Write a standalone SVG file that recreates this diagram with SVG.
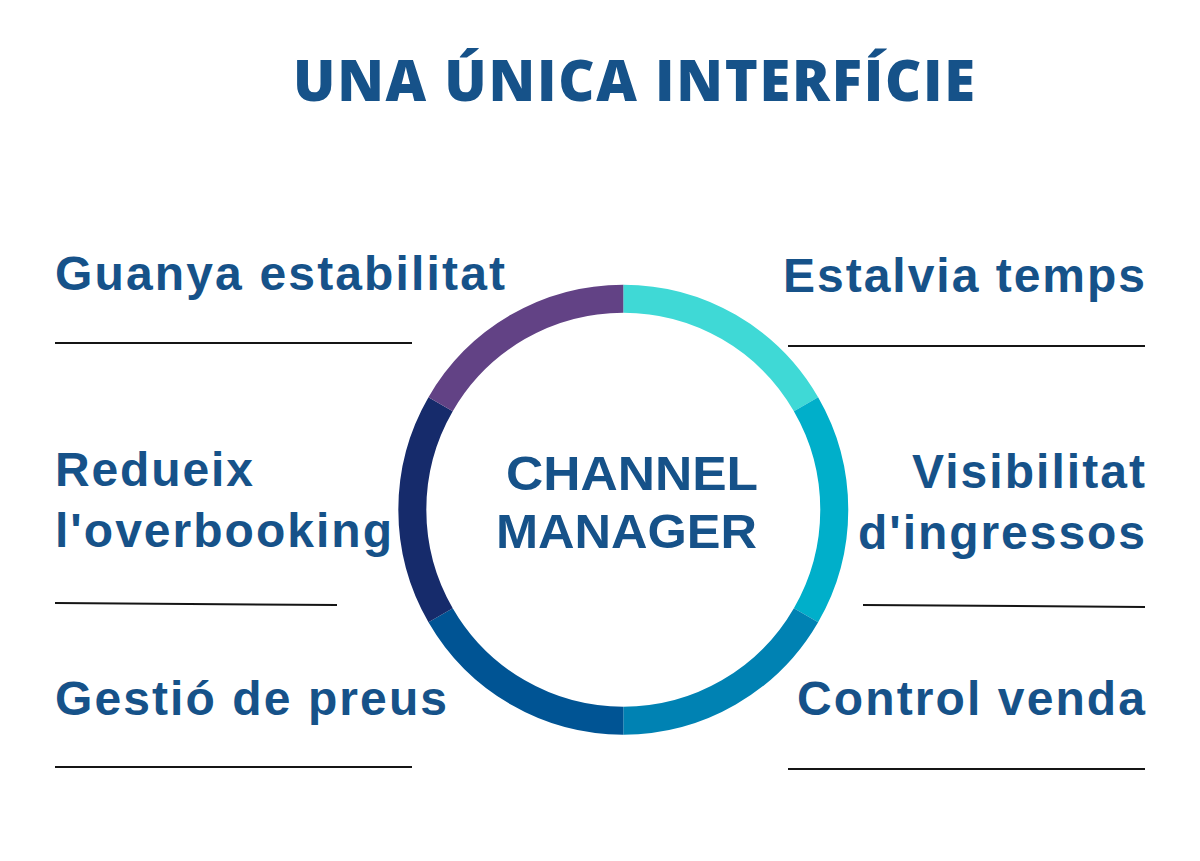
<svg xmlns="http://www.w3.org/2000/svg" width="1200" height="861" viewBox="0 0 1200 861">
<style>
.t{font-family:"Liberation Sans",Arial,sans-serif;font-weight:bold;fill:#165289;font-size:48px}
.title{font-family:"Open Sans","Liberation Sans",sans-serif;font-weight:800;fill:#165289;font-size:56px}
.seg{fill:none;stroke-width:28}
.rule{stroke:#151515;stroke-width:2;fill:none}
</style>
<rect width="1200" height="861" fill="#ffffff"/>
<text class="title" x="293" y="101" textLength="682" lengthAdjust="spacing">UNA ÚNICA INTERFÍCIE</text>
<g id="ring">
<path class="seg" stroke="#3FD9D6" d="M623.3,298.7 A211,211 0 0 1 806.0,404.2"/>
<path class="seg" stroke="#00AFCA" d="M806.0,404.2 A211,211 0 0 1 806.0,615.2"/>
<path class="seg" stroke="#0082B3" d="M806.0,615.2 A211,211 0 0 1 623.3,720.7"/>
<path class="seg" stroke="#005494" d="M623.3,720.7 A211,211 0 0 1 440.6,615.2"/>
<path class="seg" stroke="#162B6B" d="M440.6,615.2 A211,211 0 0 1 440.6,404.2"/>
<path class="seg" stroke="#624285" d="M440.6,404.2 A211,211 0 0 1 623.3,298.7"/>
</g>
<g id="center">
<text class="t" x="506" y="490" font-size="50" textLength="252" lengthAdjust="spacingAndGlyphs">CHANNEL</text>
<text class="t" x="496" y="548" font-size="50" textLength="261" lengthAdjust="spacingAndGlyphs">MANAGER</text>
</g>
<g id="guanya">
<text class="t" x="55" y="290" textLength="450" lengthAdjust="spacing">Guanya estabilitat</text>
</g>
<g id="estalvia">
<text class="t" x="783" y="292" textLength="362" lengthAdjust="spacing">Estalvia temps</text>
</g>
<g id="redueix">
<text class="t" x="55" y="486" textLength="198" lengthAdjust="spacing">Redueix</text>
<text class="t" x="55" y="547" textLength="337" lengthAdjust="spacing">l'overbooking</text>
</g>
<g id="visibilitat">
<text class="t" x="912" y="488" textLength="233" lengthAdjust="spacing">Visibilitat</text>
<text class="t" x="858" y="549" textLength="287" lengthAdjust="spacing">d'ingressos</text>
</g>
<g id="gestio">
<text class="t" x="55" y="715" textLength="392" lengthAdjust="spacing">Gestió de preus</text>
</g>
<g id="control">
<text class="t" x="797" y="715" textLength="348" lengthAdjust="spacing">Control venda</text>
</g>
<g id="connectors">
<line class="rule" x1="55" y1="343" x2="412" y2="343"/>
<line class="rule" x1="788" y1="346" x2="1145" y2="346"/>
<line class="rule" x1="55" y1="603" x2="337" y2="605"/>
<line class="rule" x1="863" y1="605" x2="1145" y2="607"/>
<line class="rule" x1="55" y1="767" x2="412" y2="767"/>
<line class="rule" x1="788" y1="769" x2="1145" y2="769"/>
</g>
</svg>
